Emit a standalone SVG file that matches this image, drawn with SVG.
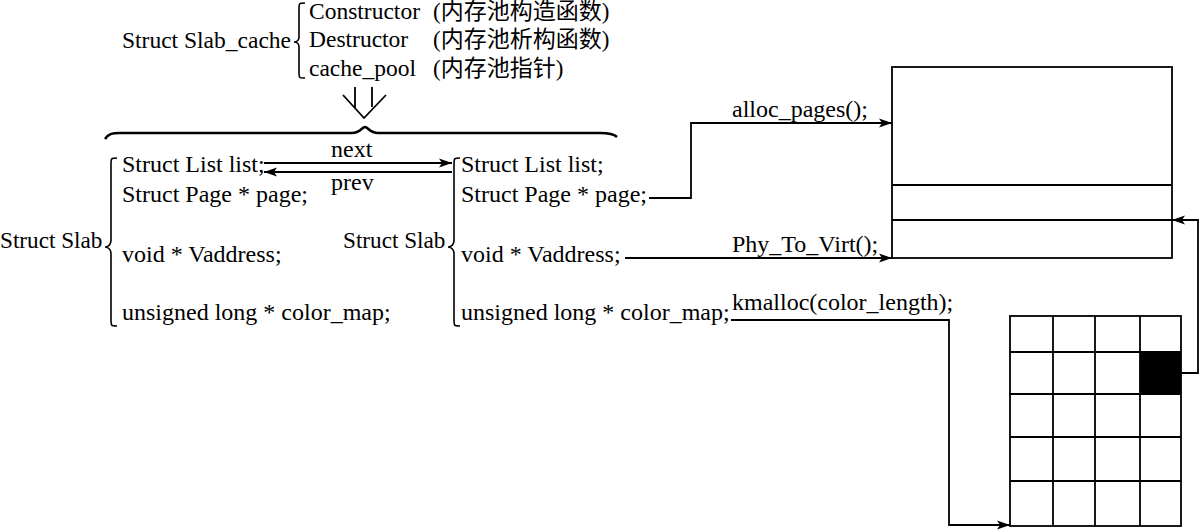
<svg xmlns="http://www.w3.org/2000/svg" width="1200" height="532" viewBox="0 0 1200 532">
<style>
text{font-family:"Liberation Serif","Noto Sans CJK SC",serif;font-size:24px;fill:#000}
.top{font-size:23.5px}
.lbl{font-size:23.2px}
.cjk{font-size:23px}
.ln{fill:none;stroke:#000;stroke-width:1.8}
.br{fill:none;stroke:#000;stroke-width:1.6}
.box{fill:#fff;stroke:#000;stroke-width:1.8}
</style>
<defs>
<marker id="ah" markerUnits="userSpaceOnUse" markerWidth="14" markerHeight="10" refX="13" refY="5" orient="auto">
<path d="M0,0.5 L13,5 L0,9.5 L3,5 z" fill="#000"/>
</marker>
</defs>
<rect width="1200" height="532" fill="#fff"/>

<g id="slab_cache">
<text class="top" x="122" y="48">Struct Slab_cache</text>
<path class="br" d="M305,3 C299,3 299,3 299,9 L299,37 C299,42 294,42 294,42 C294,42 299,42 299,47 L299,72 C299,78 299,78 305,78"/>
<text class="top" x="309" y="19">Constructor <tspan x="433" class="cjk">(内存池构造函数)</tspan></text>
<text class="top" x="309" y="47">Destructor <tspan x="433" class="cjk">(内存池析构函数)</tspan></text>
<text class="top" x="309" y="76">cache_pool <tspan x="433" class="cjk">(内存池指针)</tspan></text>
</g>

<g id="down_arrow">
<path class="ln" d="M355,87 V108 M372,87 V107 M343,95 L364,118 L386,95"/>
</g>

<g id="big_brace">
<path d="M105,139 C108,134 112,133 120,133 L352,133 C360,133 362,127 365,127 C368,127 370,133 378,133 L600,133 C610,133 614,134 617,137" fill="none" stroke="#000" stroke-width="2.6"/>
</g>

<g id="slab_left">
<text class="lbl" x="0" y="248">Struct Slab</text>
<path class="br" d="M117,158 C111,158 111,158 111,165 L111,240 C111,247 105,247 105,247 C105,247 111,247 111,254 L111,319 C111,326 111,326 117,326"/>
<text x="122" y="172">Struct List list;</text>
<text x="122" y="202">Struct Page * page;</text>
<text x="122" y="262">void * Vaddress;</text>
<text x="122" y="320">unsigned long * color_map;</text>
</g>

<g id="slab_right">
<text class="lbl" x="343" y="248">Struct Slab</text>
<path class="br" d="M460,158 C454,158 454,158 454,165 L454,240 C454,247 448,247 448,247 C448,247 454,247 454,254 L454,319 C454,326 454,326 460,326"/>
<text x="461" y="172">Struct List list;</text>
<text x="461" y="202">Struct Page * page;</text>
<text x="461" y="262">void * Vaddress;</text>
<text x="461" y="320">unsigned long * color_map;</text>
</g>

<g id="pages_box">
<rect class="box" x="892" y="67" width="280" height="191"/>
<path class="ln" d="M892,185 H1172 M892,220 H1172"/>
</g>

<g id="color_grid">
<rect class="box" x="1010" y="316" width="171" height="210"/>
<rect x="1140" y="352" width="41" height="42" fill="#000"/>
<path class="ln" d="M1053,316 V526 M1095,316 V526 M1140,316 V526 M1010,352 H1181 M1010,394 H1181 M1010,437 H1181 M1010,481 H1181"/>
</g>

<g id="connectors">
<path class="ln" d="M264,163 H452" marker-end="url(#ah)"/>
<path class="ln" d="M452,172 H264" marker-end="url(#ah)"/>
<text x="331" y="157">next</text>
<text x="331" y="190">prev</text>
<path class="ln" d="M649,198 H691 V123 H892" marker-end="url(#ah)"/>
<text x="732" y="117">alloc_pages();</text>
<path class="ln" d="M625,258 H892" marker-end="url(#ah)"/>
<text x="732" y="252">Phy_To_Virt();</text>
<path class="ln" d="M731,320 H949 V525 H1010" marker-end="url(#ah)"/>
<text x="732" y="310">kmalloc(color_length);</text>
<path class="ln" d="M1181,373 H1198 V220 H1172" marker-end="url(#ah)"/>
</g>
</svg>
